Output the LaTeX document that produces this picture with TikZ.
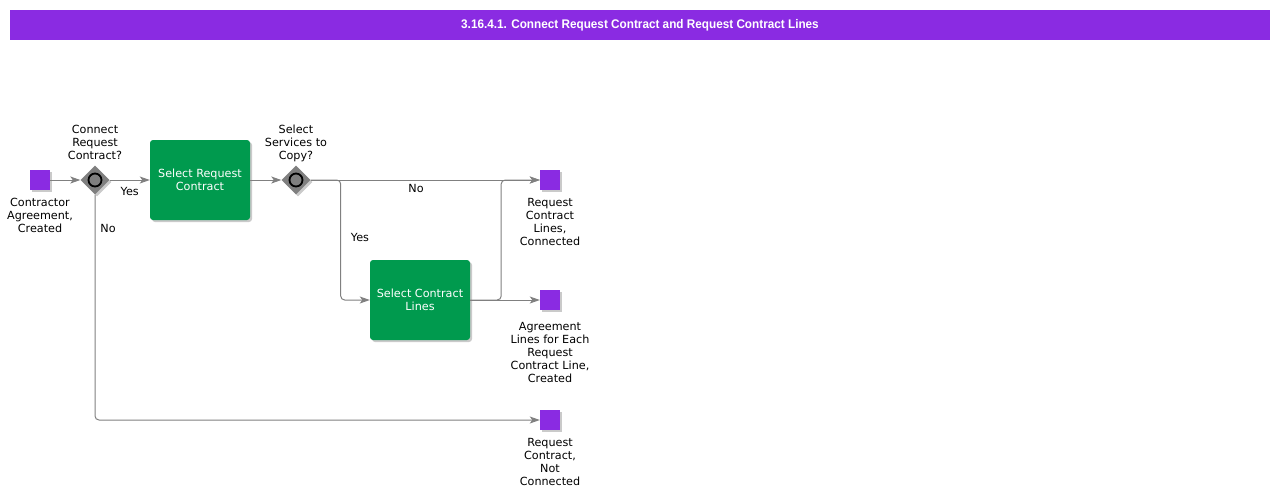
\documentclass[tikz,border=0pt]{standalone}
\usepackage{fontspec}
\setmainfont{DejaVu Sans}
\newfontfamily\titlefont[FakeStretch=0.94]{Liberation Sans}
\usetikzlibrary{shapes.geometric,arrows.meta,shadows}
\definecolor{bpmnviolet}{HTML}{8A2BE2}
\definecolor{taskgreen}{HTML}{009A4E}
\definecolor{flowgray}{HTML}{808080}
\definecolor{gwgray}{HTML}{7F7F7F}

\begin{document}
\begin{tikzpicture}[x=1pt, y=-1pt, >={Stealth[length=10pt,width=7pt,inset=2.5pt]},
        font=\fontsize{11.2}{13}\selectfont]

        \tikzstyle{shade} = [drop shadow={shadow xshift=2pt, shadow yshift=-2pt, opacity=0.35, fill=black!60}]
        \tikzstyle{event} = [rectangle, fill=bpmnviolet, minimum size=20pt, inner sep=0pt, shade]
        \tikzstyle{gateway} = [diamond, fill=gwgray, minimum size=29pt, inner sep=0pt, shade]
        \tikzstyle{gwring} = [circle, draw=black, line width=1.8pt, minimum size=13pt, inner sep=0pt]
        \tikzstyle{task} = [rectangle, rounded corners=3pt, fill=taskgreen, text=white, minimum width=100pt, minimum height=80pt, align=center, shade]
        \tikzstyle{caption} = [align=center, inner sep=0pt]
        \tikzstyle{flowtext} = [inner sep=2pt]
        \tikzstyle{flow} = [->, draw=flowgray, line width=1pt, rounded corners=4pt]

        \useasboundingbox (0,0) rectangle (1280,499);

        % title bar
        \node [fill=bpmnviolet, text=white, minimum width=1260pt, minimum height=30pt, font=\titlefont\bfseries\fontsize{12.5}{14}\selectfont] (title) at (640,25) {3.16.4.1. Connect Request Contract and Request Contract Lines};

        % events
        \node [event] (start) at (40,180) {};
        \node [caption, anchor=north] (start-txt) at (40,198) {Contractor\\Agreement,\\Created};
        \node [event] (end1) at (550,180) {};
        \node [caption, anchor=north] (end1-txt) at (550,198) {Request\\Contract\\Lines,\\Connected};
        \node [event] (end2) at (550,300) {};
        \node [caption, anchor=north] (end2-txt) at (550,322) {Agreement\\Lines for Each\\Request\\Contract Line,\\Created};
        \node [event] (end3) at (550,420) {};
        \node [caption, anchor=north] (end3-txt) at (550,438) {Request\\Contract,\\Not\\Connected};

        % gateways
        \node [gateway] (gw1) at (95,180) {};
        \node [gwring] (gw1-ring) at (gw1) {};
        \node [caption, anchor=north] (gw1-txt) at (95,125) {Connect\\Request\\Contract?};
        \node [gateway] (gw2) at (296,180) {};
        \node [gwring] (gw2-ring) at (gw2) {};
        \node [caption, anchor=north] (gw2-txt) at (296,125) {Select\\Services to\\Copy?};

        % tasks
        \node [task] (task1) at (200,180) {Select Request\\Contract};
        \node [task] (task2) at (420,300) {Select Contract\\Lines};

        % flows
        \draw [flow] (start) -- (gw1);
        \draw [flow] (gw1) -- node [flowtext, below, yshift=-5pt] {Yes} (task1);
        \draw [flow] (gw1) |- (end3);
        \draw [flow] (task1) -- (gw2);
        \draw [flow] (gw2) -- node [flowtext, below, pos=0.46, yshift=-2pt] {No} (end1);
        \draw [flow] (gw2.east) -- ++(30,0) |- (task2);
        \draw [flow] (task2) -- (end2);
        \draw [flow] (task2.east) -- ++(31,0) |- (end1);

        \node [flowtext] (no1) at (108,228) {No};
        \node [flowtext] (yes2) at (360,237) {Yes};

    \end{tikzpicture}
\end{document}
